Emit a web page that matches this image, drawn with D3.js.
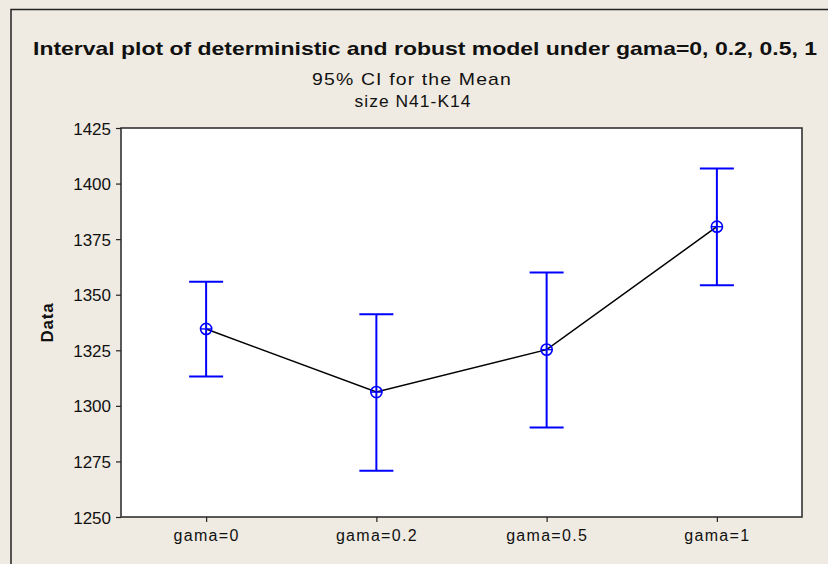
<!DOCTYPE html>
<html>
<head>
<meta charset="utf-8">
<script src="https://cdn.jsdelivr.net/npm/d3@7"></script>
<style>
  html, body { margin: 0; padding: 0; background: #efebe2; }
  svg { display: block; }
  text { font-family: "Liberation Sans", Arial, sans-serif; fill: #111; }
</style>
</head>
<body>
<svg id="chart"></svg>
<script>
// values
const categories = ["gama=0", "gama=0.2", "gama=0.5", "gama=1"];
const means = [1334.6, 1306.2, 1325.3, 1380.6];
const lowerCI = [1313.2, 1270.8, 1290.3, 1354.3];
const upperCI = [1355.8, 1341.2, 1360.0, 1406.8];
const yTicks = [1250, 1275, 1300, 1325, 1350, 1375, 1400, 1425];

const width = 828, height = 564;
const plot = { left: 121, top: 128, right: 802, bottom: 517 };

const svg = d3.select("#chart").attr("width", width).attr("height", height);

// outer frame (only the top/left edges fall inside the picture)
svg.append("rect").attr("width", width).attr("height", height).attr("fill", "#efebe2");
svg.append("path")
    .attr("d", `M11,${height} V9.5 H${width}`)
    .attr("fill", "none").attr("stroke", "#222").attr("stroke-width", 1.5);

const x = d3.scalePoint().domain(categories).range([plot.left, plot.right]).padding(0.5);
const y = d3.scaleLinear().domain([1250, 1425]).range([plot.bottom, plot.top]);

svg.append("rect")
    .attr("x", plot.left).attr("y", plot.top)
    .attr("width", plot.right - plot.left).attr("height", plot.bottom - plot.top)
    .attr("fill", "#fff").attr("stroke", "#333").attr("stroke-width", 1.6);

// axes
const yAxis = svg.append("g")
    .attr("transform", `translate(${plot.left},0)`)
    .call(d3.axisLeft(y).tickValues(yTicks).tickSize(5).tickPadding(5).tickFormat(d3.format("d")));
const xAxis = svg.append("g")
    .attr("transform", `translate(0,${plot.bottom})`)
    .call(d3.axisBottom(x).tickSize(5).tickPadding(8));
[yAxis, xAxis].forEach(a => {
    a.select(".domain").remove();
    a.selectAll(".tick line").attr("stroke", "#222").attr("stroke-width", 1.2);
    a.selectAll(".tick text").attr("fill", "#111")
        .style("font-family", '"Liberation Sans", Arial, sans-serif');
});
yAxis.selectAll(".tick text").attr("dy", "0.36em").style("font-size", "17px");
xAxis.selectAll(".tick text").style("font-size", "16px").style("letter-spacing", "1.3px");

// titles
svg.append("text")
    .attr("x", 425).attr("y", 55).attr("text-anchor", "middle")
    .attr("textLength", 784).attr("lengthAdjust", "spacingAndGlyphs")
    .style("font-size", "18.5px").style("font-weight", "bold")
    .text("Interval plot of deterministic and robust model under gama=0, 0.2, 0.5, 1");
svg.append("text")
    .attr("x", 412).attr("y", 85).attr("text-anchor", "middle")
    .attr("textLength", 200).attr("lengthAdjust", "spacingAndGlyphs")
    .style("font-size", "17px").style("letter-spacing", "1px")
    .text("95% CI for the Mean");
svg.append("text")
    .attr("x", 413).attr("y", 107).attr("text-anchor", "middle")
    .attr("textLength", 117).attr("lengthAdjust", "spacingAndGlyphs")
    .style("font-size", "17px").style("letter-spacing", "1px")
    .text("size N41-K14");
svg.append("text")
    .attr("transform", `translate(53,${(plot.top + plot.bottom) / 2}) rotate(-90)`)
    .attr("text-anchor", "middle")
    .style("font-size", "17px").style("font-weight", "bold").style("letter-spacing", "0.8px")
    .text("Data");

const data = categories.map((c, i) => ({ c, mean: means[i], lo: lowerCI[i], hi: upperCI[i] }));

// mean connect line
svg.append("path")
    .datum(data)
    .attr("fill", "none").attr("stroke", "#000").attr("stroke-width", 1.5)
    .attr("d", d3.line().x(d => x(d.c)).y(d => y(d.mean)));

// interval bars
const capHalf = 17;
const bars = svg.append("g").attr("stroke", "#0000ff").attr("fill", "none").attr("stroke-width", 2)
    .selectAll("g").data(data).join("g");
bars.append("line")
    .attr("x1", d => x(d.c)).attr("x2", d => x(d.c))
    .attr("y1", d => y(d.hi)).attr("y2", d => y(d.lo));
bars.append("line")
    .attr("x1", d => x(d.c) - capHalf).attr("x2", d => x(d.c) + capHalf)
    .attr("y1", d => y(d.hi)).attr("y2", d => y(d.hi));
bars.append("line")
    .attr("x1", d => x(d.c) - capHalf).attr("x2", d => x(d.c) + capHalf)
    .attr("y1", d => y(d.lo)).attr("y2", d => y(d.lo));

// circle-plus mean symbol
bars.append("circle")
    .attr("cx", d => x(d.c)).attr("cy", d => y(d.mean)).attr("r", 5.6)
    .attr("stroke-width", 1.6);
bars.append("line")
    .attr("x1", d => x(d.c) - 5.6).attr("x2", d => x(d.c) + 5.6)
    .attr("y1", d => y(d.mean)).attr("y2", d => y(d.mean))
    .attr("stroke-width", 1.4);
</script>
</body>
</html>
